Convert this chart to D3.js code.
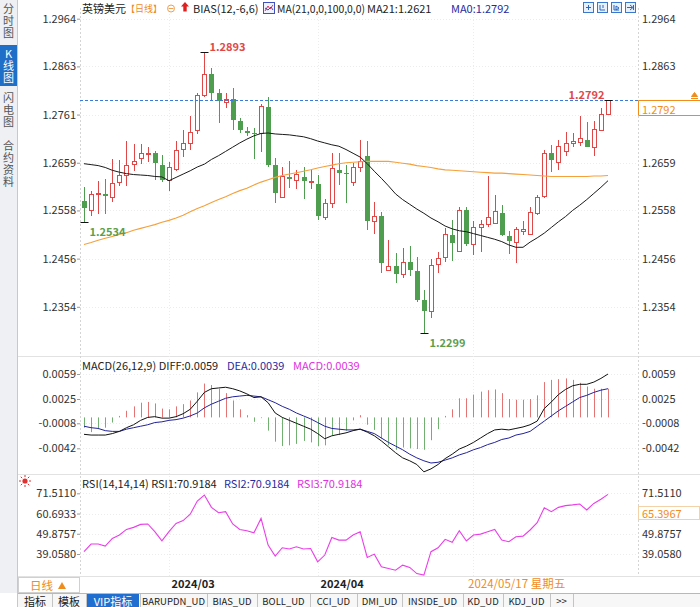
<!DOCTYPE html>
<html><head><meta charset="utf-8">
<script src="https://cdn.jsdelivr.net/npm/d3@7/dist/d3.min.js"></script>
<style>
html,body{margin:0;padding:0;background:#fff;}
svg{display:block;}
text{font-family:"Noto Sans CJK SC","Noto Sans",sans-serif;}
.vtab{writing-mode:vertical-rl;text-orientation:upright;letter-spacing:1px;}
</style></head><body>
<svg id="chart" width="700" height="607"></svg>
<script>
// ---------------- DATA ----------------
const dates=["02-14","02-15","02-16","02-19","02-20","02-21","02-22","02-23","02-26","02-27","02-28","02-29",
"03-01","03-04","03-05","03-06","03-07","03-08","03-11","03-12","03-13","03-14","03-15","03-18","03-19","03-20","03-21","03-22","03-25","03-26","03-27","03-28","03-29",
"04-01","04-02","04-03","04-04","04-05","04-08","04-09","04-10","04-11","04-12","04-15","04-16","04-17","04-18","04-19","04-22","04-23","04-24","04-25","04-26","04-29","04-30",
"05-01","05-02","05-03","05-06","05-07","05-08","05-09","05-10","05-13","05-14","05-15","05-16","05-17","05-20","05-21","05-22","05-23","05-24","05-27","05-28"];
const open=[1.2578,1.2560,1.2592,1.2592,1.2587,1.2619,1.2634,1.2656,1.2670,1.2679,
1.2679,1.2655,1.2622,1.2646,1.2688,1.2701,1.2728,1.2803,1.2847,1.2806,
1.2788,1.2794,1.2747,1.2726,1.2723,1.2721,1.2777,1.2654,1.2586,1.2629,
1.2622,1.2628,1.2619,1.2615,1.2544,1.2573,1.2643,1.2638,1.2619,1.2650,
1.2673,1.2536,1.2546,1.2432,1.2441,1.2423,1.2449,1.2430,1.2368,1.2346,
1.2445,1.2460,1.2506,1.2473,1.2558,1.2486,1.2524,1.2529,1.2531,1.2552,
1.2503,1.2492,1.2515,1.2508,1.2553,1.2588,1.2679,1.2661,1.2684,1.2700,
1.2703,1.2707,1.2692,1.2729,1.2763];
const high=[1.2608,1.2600,1.2620,1.2624,1.2666,1.2664,1.2705,1.2698,1.2698,1.2693,
1.2683,1.2675,1.2661,1.2706,1.2729,1.2759,1.2807,1.2893,1.2859,1.2816,
1.2807,1.2818,1.2753,1.2734,1.2732,1.2783,1.2799,1.2669,1.2649,1.2663,
1.2643,1.2651,1.2643,1.2633,1.2582,1.2679,1.2679,1.2654,1.2658,1.2707,
1.2706,1.2575,1.2555,1.2496,1.2468,1.2478,1.2482,1.2460,1.2390,1.2456,
1.2469,1.2520,1.2538,1.2566,1.2565,1.2536,1.2538,1.2631,1.2591,1.2569,
1.2515,1.2524,1.2536,1.2565,1.2591,1.2686,1.2697,1.2708,1.2724,1.2722,
1.2758,1.2745,1.2747,1.2774,1.2792];
const low=[1.2534,1.2546,1.2550,1.2550,1.2576,1.2610,1.2609,1.2642,1.2656,1.2660,
1.2622,1.2619,1.2599,1.2642,1.2671,1.2686,1.2719,1.2798,1.2791,1.2743,
1.2774,1.2729,1.2721,1.2715,1.2667,1.2682,1.2650,1.2573,1.2585,1.2605,
1.2603,1.2583,1.2603,1.2538,1.2538,1.2563,1.2612,1.2574,1.2610,1.2640,
1.2517,1.2508,1.2425,1.2429,1.2404,1.2415,1.2420,1.2365,1.2299,1.2330,
1.2426,1.2449,1.2451,1.2469,1.2483,1.2463,1.2469,1.2524,1.2529,1.2503,
1.2466,1.2446,1.2506,1.2506,1.2548,1.2584,1.2640,1.2643,1.2673,1.2692,
1.2694,1.2692,1.2674,1.2728,1.2760];
const close=[1.2563,1.2593,1.2594,1.2589,1.2617,1.2634,1.2654,1.2663,1.2679,1.2680,
1.2658,1.2623,1.2650,1.2686,1.2700,1.2725,1.2802,1.2847,1.2807,1.2790,
1.2794,1.2749,1.2729,1.2723,1.2719,1.2780,1.2654,1.2596,1.2631,1.2624,
1.2635,1.2620,1.2621,1.2546,1.2573,1.2647,1.2637,1.2635,1.2650,1.2663,
1.2536,1.2547,1.2446,1.2441,1.2423,1.2449,1.2432,1.2368,1.2346,1.2443,
1.2458,1.2508,1.2489,1.2558,1.2488,1.2523,1.2529,1.2544,1.2557,1.2505,
1.2494,1.2518,1.2518,1.2554,1.2587,1.2680,1.2664,1.2695,1.2701,1.2705,
1.2712,1.2693,1.2731,1.2763,1.2792];
const ma21=[1.2657,1.2655,1.2653,1.2649,1.2643,1.2639,1.2636,1.2634,1.2633,1.2632,
1.2630,1.2629,1.2621,1.2628,1.2635,1.2642,1.2650,1.2656,1.2666,1.2674,
1.2683,1.2692,1.2701,1.2709,1.2716,1.2721,1.2722,1.2720,1.2719,1.2718,
1.2716,1.2714,1.2710,1.2705,1.2701,1.2697,1.2694,1.2687,1.2679,1.2671,
1.2657,1.2641,1.2626,1.2610,1.2593,1.2581,1.2571,1.2561,1.2552,1.2542,
1.2534,1.2525,1.2519,1.2515,1.2513,1.2509,1.2505,1.2501,1.2497,1.2492,
1.2485,1.2480,1.2480,1.2491,1.2500,1.2510,1.2522,1.2534,1.2545,1.2558,
1.2569,1.2581,1.2594,1.2607,1.2621];
const ma100=[1.2486,1.2490,1.2495,1.2499,1.2503,1.2507,1.2511,1.2516,1.2520,1.2524,
1.2528,1.2533,1.2537,1.2542,1.2548,1.2555,1.2562,1.2568,1.2575,1.2581,
1.2587,1.2594,1.2600,1.2605,1.2612,1.2618,1.2623,1.2628,1.2632,1.2635,
1.2638,1.2641,1.2644,1.2648,1.2651,1.2654,1.2657,1.2659,1.2660,1.2661,
1.2662,1.2662,1.2662,1.2662,1.2660,1.2658,1.2656,1.2653,1.2651,1.2649,
1.2646,1.2644,1.2643,1.2642,1.2641,1.2640,1.2639,1.2638,1.2637,1.2637,
1.2636,1.2635,1.2634,1.2633,1.2632,1.2631,1.2630,1.2630,1.2630,1.2630,
1.2630,1.2630,1.2631,1.2631,1.2632];
const diff=[-0.0023,-0.0024,-0.0024,-0.0024,-0.0022,-0.0019,-0.0014,-0.0010,-0.0004,0.0000,
0.0001,-0.0001,-0.0001,0.0001,0.0005,0.0011,0.0022,0.0034,0.0039,0.0040,
0.0041,0.0039,0.0036,0.0032,0.0027,0.0028,0.0020,0.0006,0.0000,-0.0004,
-0.0008,-0.0012,-0.0016,-0.0022,-0.0029,-0.0025,-0.0023,-0.0021,-0.0018,-0.0016,
-0.0020,-0.0025,-0.0032,-0.0040,-0.0048,-0.0055,-0.0059,-0.0064,-0.0074,-0.0070,
-0.0064,-0.0056,-0.0050,-0.0043,-0.0039,-0.0034,-0.0028,-0.0022,-0.0017,-0.0016,
-0.0017,-0.0015,-0.0013,-0.0010,-0.0005,0.0012,0.0021,0.0031,0.0038,0.0043,
0.0045,0.0045,0.0048,0.0053,0.0059];
const dea=[-0.0012,-0.0014,-0.0015,-0.0018,-0.0019,-0.0019,-0.0016,-0.0014,-0.0012,-0.0010,
-0.0007,-0.0006,-0.0004,-0.0003,-0.0001,0.0002,0.0006,0.0013,0.0018,0.0022,
0.0026,0.0028,0.0029,0.0030,0.0029,0.0028,0.0024,0.0020,0.0015,0.0011,
0.0006,0.0002,-0.0002,-0.0007,-0.0012,-0.0015,-0.0016,-0.0017,-0.0017,-0.0016,
-0.0019,-0.0022,-0.0028,-0.0034,-0.0039,-0.0044,-0.0050,-0.0055,-0.0059,-0.0062,
-0.0061,-0.0058,-0.0055,-0.0051,-0.0048,-0.0044,-0.0041,-0.0037,-0.0034,-0.0030,
-0.0028,-0.0024,-0.0022,-0.0019,-0.0012,-0.0005,0.0002,0.0009,0.0015,0.0021,
0.0027,0.0030,0.0034,0.0037,0.0039];
const macdBar=[-0.0014,-0.0020,-0.0016,-0.0014,-0.0007,0.0002,0.0009,0.0015,0.0020,0.0021,
0.0019,0.0012,0.0011,0.0015,0.0018,0.0023,0.0034,0.0046,0.0044,0.0039,
0.0033,0.0023,0.0011,0.0003,-0.0006,-0.0001,-0.0018,-0.0033,-0.0039,-0.0038,
-0.0036,-0.0032,-0.0034,-0.0039,-0.0038,-0.0024,-0.0024,-0.0018,-0.0004,0.0003,
-0.0010,-0.0017,-0.0029,-0.0038,-0.0044,-0.0041,-0.0042,-0.0043,-0.0044,-0.0031,
-0.0016,0.0002,0.0011,0.0026,0.0026,0.0031,0.0035,0.0037,0.0038,0.0033,
0.0025,0.0024,0.0024,0.0025,0.0030,0.0048,0.0051,0.0052,0.0053,0.0051,
0.0047,0.0042,0.0039,0.0039,0.0039];
const rsi=[40.3,44.4,44.4,43.3,47.4,49.2,52.2,53.3,54.9,55.1,
51.0,46.1,51.0,55.4,56.9,60.3,67.4,70.6,64.0,61.1,
61.7,55.1,52.2,51.5,50.4,58.1,43.8,37.9,42.4,41.7,
42.9,41.7,42.0,34.9,38.5,47.9,46.5,46.5,49.2,51.0,
37.2,39.0,32.2,31.3,30.4,33.1,31.9,28.6,27.8,40.3,
42.4,46.9,45.3,51.5,46.0,49.2,49.7,51.0,52.2,46.5,
45.6,48.3,48.6,51.9,55.8,63.8,61.7,64.0,64.9,65.3,
65.8,62.6,66.1,68.3,70.9184];
const priceTicks=["1.2964","1.2863","1.2761","1.2659","1.2558","1.2456","1.2354"];
const macdTicks=["0.0059","0.0025","-0.0008","-0.0042"];
const rsiTicks=["71.5110","60.6933","49.8757","39.0580"];
const monthStarts=["03-01","04-01","05-01"];
const monthLabels=["2024/03","2024/04",""];
const extremes=[{date:"03-08",kind:"high",side:"right"},{date:"02-14",kind:"low",side:"right"},
                {date:"04-22",kind:"low",side:"right"},{date:"05-28",kind:"high",side:"left"}];
const lastPrice=1.2792;
const cursorRsi="65.3967";
const cursorDate="2024/05/17 星期五";
const tabs=["指标","模板","VIP指标","BARUPDN_UD","BIAS_UD","BOLL_UD","CCI_UD","DMI_UD","INSIDE_UD","KD_UD","KDJ_UD",">>"];
const leftTabs=["分时图","K线图","闪电图","合约资料"];

// ---------------- SETUP ----------------
const svg=d3.select("#chart");
const RED="#e04848", GREEN="#4f9e4f", ORANGE="#f08c1c";
const L=80, R=638;
const x=d3.scalePoint().domain(dates).range([84,608]);
const yP=d3.scaleLinear().domain([1.2354,1.2964]).range([306.8,18.7]);
const yM=d3.scaleLinear().domain([-0.0042,0.0059]).range([448.3,374]);
const yR=d3.scaleLinear().domain([39.058,71.511]).range([554,493.3]);
const px=d=>Math.round(x(d))+0.5;

function txt(g,xx,yy,s,o={}){
  const t=g.append("text").attr("x",xx).attr("y",yy).text(s)
   .attr("font-size",o.size||11).attr("fill",o.fill||"#222")
   .attr("dominant-baseline","central").attr("text-anchor",o.anchor||"start");
  if(o.weight) t.attr("font-weight",o.weight);
  if(o.family) t.attr("font-family",o.family);
  if(o.len) t.attr("textLength",o.len).attr("lengthAdjust","spacingAndGlyphs");
  return t;
}

// ---------------- GRID / FRAMES ----------------
const grid=svg.append("g");
[356,474,576].forEach(yy=>grid.append("line").attr("x1",18).attr("x2",700)
  .attr("y1",yy+0.5).attr("y2",yy+0.5).attr("stroke","#e2e2e2"));
[L,R].forEach(xx=>grid.append("line").attr("x1",xx+0.5).attr("x2",xx+0.5).attr("y1",8).attr("y2",576)
  .attr("stroke","#d4d4d4").attr("stroke-dasharray","2,2"));
monthStarts.forEach(m=>grid.append("line").attr("x1",px(m)).attr("x2",px(m)).attr("y1",8).attr("y2",576)
  .attr("stroke","#ececec").attr("stroke-dasharray","1,2"));
function hgrid(scale,ticks){ticks.forEach(t=>grid.append("line").attr("x1",L).attr("x2",R)
  .attr("y1",Math.round(scale(+t))+0.5).attr("y2",Math.round(scale(+t))+0.5)
  .attr("stroke","#ececec").attr("stroke-dasharray","1,2"));}
hgrid(yP,priceTicks);hgrid(yM,macdTicks);hgrid(yR,rsiTicks);

// ---------------- AXES ----------------
function axes(scale,ticks,hiddenRight){
  const vals=ticks.map(Number);
  const la=svg.append("g").attr("transform",`translate(${L},0)`)
    .call(d3.axisLeft(scale).tickValues(vals).tickFormat((d,i)=>ticks[i]).tickSize(3).tickPadding(1));
  const rv=ticks.filter(t=>!hiddenRight.includes(t));
  const ra=svg.append("g").attr("transform",`translate(${R},0)`)
    .call(d3.axisRight(scale).tickValues(rv.map(Number)).tickFormat((d,i)=>rv[i]).tickSize(0).tickPadding(4));
  [la,ra].forEach(a=>{a.select(".domain").remove();
    a.selectAll("text").attr("font-size",11).attr("fill","#333")
      .attr("font-family",'"Noto Sans CJK SC","Noto Sans",sans-serif');
    a.selectAll("line").attr("stroke","#999");});
}
axes(yP,priceTicks,["1.2761"]);axes(yM,macdTicks,[]);axes(yR,rsiTicks,["60.6933"]);

// ---------------- CANDLES ----------------
const candles=dates.map((d,i)=>({d,o:open[i],h:high[i],l:low[i],c:close[i]}));
const cg=svg.append("g").selectAll("g").data(candles).join("g");
cg.append("line").attr("x1",d=>px(d.d)).attr("x2",d=>px(d.d))
  .attr("y1",d=>Math.round(yP(d.h))).attr("y2",d=>Math.round(yP(d.l)))
  .attr("stroke",d=>d.c>=d.o?RED:GREEN).attr("stroke-width",1);
cg.filter(d=>d.c>=d.o).append("rect")
  .attr("x",d=>px(d.d)-2).attr("width",4)
  .attr("y",d=>Math.round(yP(d.c))+0.5)
  .attr("height",d=>Math.max(1,Math.round(yP(d.o))-Math.round(yP(d.c))))
  .attr("fill","#fff").attr("stroke",RED).attr("stroke-width",1);
cg.filter(d=>d.c<d.o).append("rect")
  .attr("x",d=>px(d.d)-2.5).attr("width",5)
  .attr("y",d=>Math.round(yP(d.o)))
  .attr("height",d=>Math.max(1,Math.round(yP(d.c))-Math.round(yP(d.o))))
  .attr("fill",GREEN);

// ---------------- MA LINES ----------------
const lineP=arr=>d3.line().x((v,i)=>x(dates[i])).y(v=>yP(v))(arr);
svg.append("path").attr("d",lineP(ma100)).attr("fill","none").attr("stroke","#f5a03a").attr("stroke-width",1.1);
svg.append("path").attr("d",lineP(ma21)).attr("fill","none").attr("stroke","#1a1a1a").attr("stroke-width",1);

svg.append("line").attr("x1",L).attr("x2",R).attr("y1",Math.round(yP(lastPrice))+0.5).attr("y2",Math.round(yP(lastPrice))+0.5)
  .attr("stroke","#3a7ad8").attr("stroke-dasharray","3,2");

extremes.forEach(e=>{
  const i=dates.indexOf(e.date);
  const v=e.kind==="high"?high[i]:low[i];
  const cx=px(e.date), cy=Math.round(yP(v))+0.5;
  svg.append("line").attr("x1",cx-4).attr("x2",cx+4).attr("y1",cy).attr("y2",cy).attr("stroke","#111");
  const col=e.kind==="high"?RED:"#5c9e4c";
  const ty=e.kind==="high"?cy-7:cy+8;
  if(e.side==="right") txt(svg,cx+5,ty,d3.format(".4f")(v),{fill:col,weight:"bold"});
  else txt(svg,cx-4,ty,d3.format(".4f")(v),{fill:col,weight:"bold",anchor:"end"});
});

{
  const yy=Math.round(yP(lastPrice))+0.5;
  svg.append("rect").attr("x",R+0.5).attr("y",yy).attr("width",61).attr("height",15).attr("fill","#fff");
  svg.append("path").attr("d",`M${R+0.5},${yy}H700M${R+0.5},${yy}V${yy+15}H700`).attr("fill","none").attr("stroke",ORANGE);
  txt(svg,R+4,yy+8,d3.format(".4f")(lastPrice),{fill:ORANGE});
  svg.append("path").attr("d",`M691,${yy-2}h7M694.5,${yy-8}l3,4h-6z`).attr("stroke",ORANGE).attr("fill",ORANGE);
}

// ---------------- MACD ----------------
svg.append("g").selectAll("line").data(macdBar).join("line")
  .attr("x1",(v,i)=>px(dates[i])).attr("x2",(v,i)=>px(dates[i]))
  .attr("y1",yM(0)).attr("y2",v=>yM(v))
  .attr("stroke",v=>v>=0?"#e47474":"#72b072").attr("stroke-width",1);
const lineM=arr=>d3.line().x((v,i)=>x(dates[i])).y(v=>yM(v))(arr);
svg.append("path").attr("d",lineM(dea)).attr("fill","none").attr("stroke","#22229a").attr("stroke-width",1);
svg.append("path").attr("d",lineM(diff)).attr("fill","none").attr("stroke","#111").attr("stroke-width",1);
txt(svg,82,365,"MACD(26,12,9) DIFF:"+d3.format(".4f")(diff[diff.length-1]));
txt(svg,227,365,"DEA:"+d3.format(".4f")(dea[dea.length-1]),{fill:"#2a2aa0"});
txt(svg,293,365,"MACD:"+d3.format(".4f")(macdBar[macdBar.length-1]),{fill:"#e030e0"});

// ---------------- RSI ----------------
const lineR=d3.line().x((v,i)=>x(dates[i])).y(v=>yR(v));
svg.append("path").attr("d",lineR(rsi)).attr("fill","none").attr("stroke","#ea3ee8").attr("stroke-width",1.1);
const rl=d3.format(".4f")(rsi[rsi.length-1]);
txt(svg,82,483,"RSI(14,14,14) RSI1:"+rl);
txt(svg,224,483,"RSI2:"+rl,{fill:"#2a2aa0"});
txt(svg,297,483,"RSI3:"+rl,{fill:"#e030e0"});
{
  const s=svg.append("g").attr("transform","translate(25,481)");
  s.append("circle").attr("r",2.6).attr("fill","#e03030");
  d3.range(8).forEach(k=>{const a=k*Math.PI/4;
    s.append("line").attr("x1",Math.cos(a)*4).attr("y1",Math.sin(a)*4).attr("x2",Math.cos(a)*6).attr("y2",Math.sin(a)*6)
     .attr("stroke","#e03030").attr("stroke-width",1);});
}
svg.append("rect").attr("x",R+0.5).attr("y",506.5).attr("width",61).attr("height",13).attr("fill","#fff").attr("stroke","#f3d2a8");
txt(svg,R+4,513,cursorRsi,{fill:ORANGE});

// ---------------- DATE AXIS ----------------
monthStarts.forEach((m,i)=>{ if(monthLabels[i]) txt(svg,px(m)+2,583,monthLabels[i],{fill:"#222",weight:"600"}); });
txt(svg,468,583,cursorDate,{fill:ORANGE,size:11.5});

// ---------------- HEADER ----------------
txt(svg,82,8,"英镑美元",{size:11});
txt(svg,126,8,"【日线】",{fill:ORANGE,size:9});
// ⊖ icon drawn as a shape
svg.append("circle").attr("cx",171).attr("cy",8.5).attr("r",3.5).attr("fill","none").attr("stroke","#f0a050");
svg.append("line").attr("x1",168.5).attr("x2",173.5).attr("y1",8.5).attr("y2",8.5).attr("stroke","#f0a050");
svg.append("path").attr("d","M185,2 l4,4.5h-2.3v5h-3.4v-5h-2.3z").attr("fill","#e02020");
txt(svg,193,8,"BIAS(12,-6,6)",{size:11});
{
  const ic=svg.append("g").attr("transform","translate(263,2)");
  ic.append("rect").attr("x",0.5).attr("y",0.5).attr("width",11).attr("height",11).attr("fill","#eef2ff").attr("stroke","#4050c0");
  ic.append("path").attr("d","M2,9 L5,4 L7,7 L10,3").attr("fill","none").attr("stroke","#e03060");
  ic.append("path").attr("d","M2,6 L5,8 L8,5 L10,8").attr("fill","none").attr("stroke","#3050c0");
}
txt(svg,277,8,"MA(21,0,0,100,0,0)",{size:11,len:88});
txt(svg,367,8,"MA21:"+d3.format(".4f")(ma21[ma21.length-1]),{size:11});
txt(svg,451,8,"MA0:"+d3.format(".4f")(lastPrice),{size:11,fill:"#2a2aa0"});
[583,597,611,625].forEach((xx,k)=>{
  const ic=svg.append("g").attr("transform",`translate(${xx},2)`);
  ic.append("rect").attr("x",0.5).attr("y",0.5).attr("width",10).attr("height",10).attr("fill","#e8f0fc").attr("stroke","#3a78d0");
  const p=["M3,5.5h5M5.5,3v5","M3,3v5h5M6,3v3","M3,3v5h5M5,4l3,2l-3,2z","M2,5.5h5M5,3l3,2.5l-3,2.5M8.5,3v5"][k];
  ic.append("path").attr("d",p).attr("fill","none").attr("stroke","#2a68c0");
});

// ---------------- LEFT STRIP ----------------
svg.append("rect").attr("x",0).attr("y",0).attr("width",17).attr("height",593).attr("fill","#eef0f4");
svg.append("line").attr("x1",17.5).attr("x2",17.5).attr("y1",0).attr("y2",607).attr("stroke","#c8c8c8");
svg.append("rect").attr("x",0).attr("y",45).attr("width",17).attr("height",41).attr("fill","#1f6ec8");
const tabTop=[3,48,92,140];
leftTabs.forEach((s,k)=>{
  svg.append("text").attr("class","vtab").attr("x",8.5).attr("y",tabTop[k])
    .attr("font-size",11).attr("fill",k===1?"#fff":"#555").text(s);
});

svg.append("rect").attr("x",18.5).attr("y",577.5).attr("width",61).attr("height",15).attr("fill","#fff").attr("stroke","#d0d0d0");
txt(svg,30,585,"日线",{fill:ORANGE,size:11.5});
svg.append("path").attr("d","M58,589 l4,-7 l4,7z").attr("fill",ORANGE);

// ---------------- TAB BAR ----------------
const tb=[18,52,86,140,207,257,310,357,402,463,503,550,573];
svg.append("rect").attr("x",18).attr("y",593).attr("width",682).attr("height",14).attr("fill","#f7f7f7");
svg.append("line").attr("x1",18).attr("x2",700).attr("y1",593.5).attr("y2",593.5).attr("stroke","#b8b8b8");
tabs.forEach((t,i)=>{
  const a=tb[i],b=tb[i+1];
  if(t==="VIP指标") svg.append("rect").attr("x",a+1).attr("y",594).attr("width",b-a-2).attr("height",13).attr("fill","#1f6ed0");
  svg.append("line").attr("x1",b+0.5).attr("x2",b+0.5).attr("y1",594).attr("y2",607).attr("stroke","#c4c4c4");
  const cjk=/[\u4e00-\u9fff]/.test(t);
  txt(svg,(a+b)/2,600.5,t,{size:cjk?11:9.5,anchor:"middle",fill:t==="VIP指标"?"#fff":"#222",
     family:cjk?'"Noto Sans CJK SC",sans-serif':'"Liberation Mono",monospace'});
});
</script></body></html>
